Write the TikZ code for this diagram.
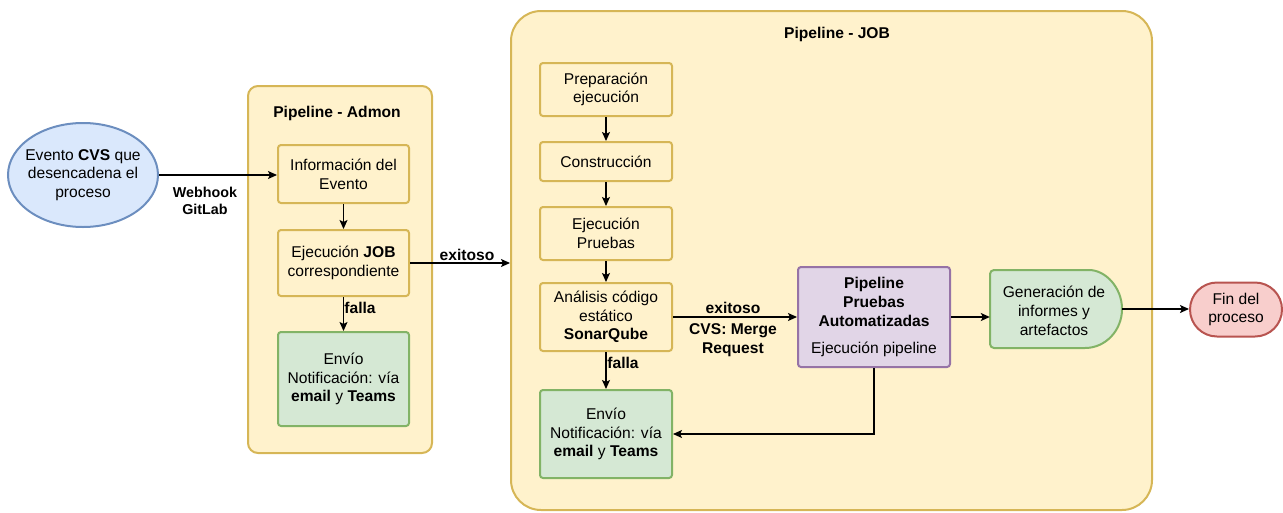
\documentclass[tikz,border=0pt]{standalone}
\usepackage{fontspec}
\setmainfont{Liberation Sans}
\usetikzlibrary{arrows.meta,shapes.misc,shapes.geometric}

\definecolor{yfill}{HTML}{FFF2CC}
\definecolor{ydraw}{HTML}{D6B656}
\definecolor{gfill}{HTML}{D5E8D4}
\definecolor{gdraw}{HTML}{82B366}
\definecolor{bfill}{HTML}{DAE8FC}
\definecolor{bdraw}{HTML}{6C8EBF}
\definecolor{pfill}{HTML}{E1D5E7}
\definecolor{pdraw}{HTML}{9673A6}
\definecolor{rfill}{HTML}{F8CECC}
\definecolor{rdraw}{HTML}{B85450}

\begin{document}
\begin{tikzpicture}[x=1pt,y=-1pt,
  font=\fontsize{15.6}{18.7}\selectfont,
  container/.style={draw=ydraw, fill=yfill, line width=2pt},
  title/.style={font=\fontsize{15.6}{18.7}\selectfont\bfseries},
  stepbox/.style={draw=ydraw, fill=yfill, line width=2pt, rounded corners=3pt,
    align=center, inner sep=0pt},
  notify/.style={draw=gdraw, fill=gfill, line width=2pt, rounded corners=3pt,
    align=center, inner sep=0pt},
  lbl/.style={font=\fontsize{15.6}{18.7}\selectfont\bfseries, align=center, inner sep=0pt},
  flow/.style={line width=1.3pt, -{Stealth[length=9pt,width=8pt,inset=2pt]}}
]
\useasboundingbox (0,0) rectangle (1283,512);

% containers
\node[container, rounded corners=10pt, minimum width=184pt, minimum height=367pt]
  (admon) at (340,269.5) {};
\node[title] (admonT) at (337,113) {Pipeline - Admon};
\node[container, rounded corners=30pt, minimum width=641pt, minimum height=499pt]
  (job) at (831.5,260.5) {};
\node[title] (jobT) at (837,34) {Pipeline - JOB};

% start event
\node[ellipse, draw=bdraw, fill=bfill, line width=2pt, minimum width=150pt,
  minimum height=104pt, inner xsep=-8pt, inner ysep=0pt, align=center] (evento) at (83,175)
  {Evento \textbf{CVS} que\\desencadena el\\proceso};

% admin pipeline
\node[stepbox, minimum width=131pt, minimum height=58pt] (info) at (343.5,174)
  {Información del\\Evento};
\node[stepbox, minimum width=131pt, minimum height=66pt] (ejec) at (343.5,263)
  {Ejecución \textbf{JOB}\\correspondiente};
\node[notify, minimum width=131pt, minimum height=94pt] (envio1) at (343.5,379)
  {Envío\\Notificación: vía\\\textbf{email} y \textbf{Teams}};

% job pipeline
\node[stepbox, minimum width=132pt, minimum height=53pt] (prep) at (606,89.5)
  {Preparación\\ejecución};
\node[stepbox, minimum width=132pt, minimum height=39pt] (constr) at (606,161.5)
  {Construcción};
\node[stepbox, minimum width=132pt, minimum height=53pt] (pruebas) at (606,233.5)
  {Ejecución\\Pruebas};
\node[stepbox, minimum width=132pt, minimum height=68pt] (analisis) at (606,317)
  {Análisis código\\estático\\\textbf{SonarQube}};
\node[notify, minimum width=132pt, minimum height=88pt] (envio2) at (606,434)
  {Envío\\Notificación: vía\\\textbf{email} y \textbf{Teams}};

\node[draw=pdraw, fill=pfill, line width=2pt, rounded corners=3pt, align=center,
  inner sep=0pt, minimum width=152pt, minimum height=100pt] (pipe) at (874,317)
  {\textbf{Pipeline}\\\textbf{Pruebas}\\\textbf{Automatizadas}\\[8pt]Ejecución pipeline};

% report generation (delay shape)
\node[minimum width=132pt, minimum height=78pt, inner sep=0pt] (gen) at (1056,309) {};
\draw[draw=gdraw, fill=gfill, line width=2pt]
  (1085,348) [rounded corners=4pt] -- (990,348) -- (990,270) -- (1085,270)
  [sharp corners] arc[start angle=90, end angle=-90, x radius=37pt, y radius=39pt] -- cycle;
\node[align=center, inner sep=0pt] (genT) at (1054,311)
  {Generación de\\informes y\\artefactos};

% end event
\node[rounded rectangle, draw=rdraw, fill=rfill, line width=2pt, align=center,
  inner sep=0pt, minimum width=92pt, minimum height=54pt] (fin) at (1236,309.5)
  {Fin del\\proceso};

% connectors
\draw[flow] (evento.east) -- (evento.east -| info.west);
\node[lbl, font=\fontsize{14.3}{16.5}\selectfont\bfseries] (webhook) at (205,201) {Webhook\\GitLab};
\draw[flow] (info) -- (ejec);
\draw[flow] (ejec) -- (envio1);
\node[lbl] (falla1) at (360,308) {falla};
\draw[flow] (ejec.east) -- (ejec.east -| job.west);
\node[lbl] (exito1) at (467,255) {exitoso};

\draw[flow] (prep) -- (constr);
\draw[flow] (constr) -- (pruebas);
\draw[flow] (pruebas) -- (analisis);
\draw[flow] (analisis) -- (envio2);
\node[lbl] (falla2) at (623,363) {falla};
\draw[flow] (analisis.east) -- (pipe.west);
\node[lbl] (exito2) at (733,308) {exitoso};
\node[lbl] (merge) at (733,340.5) {CVS: Merge\\Request};
\draw[flow] (pipe.south) |- (envio2.east);
\draw[flow] (pipe.east) -- (pipe.east -| gen.west);
\draw[flow] (gen.east) -- (gen.east -| fin.west);
\end{tikzpicture}
\end{document}
